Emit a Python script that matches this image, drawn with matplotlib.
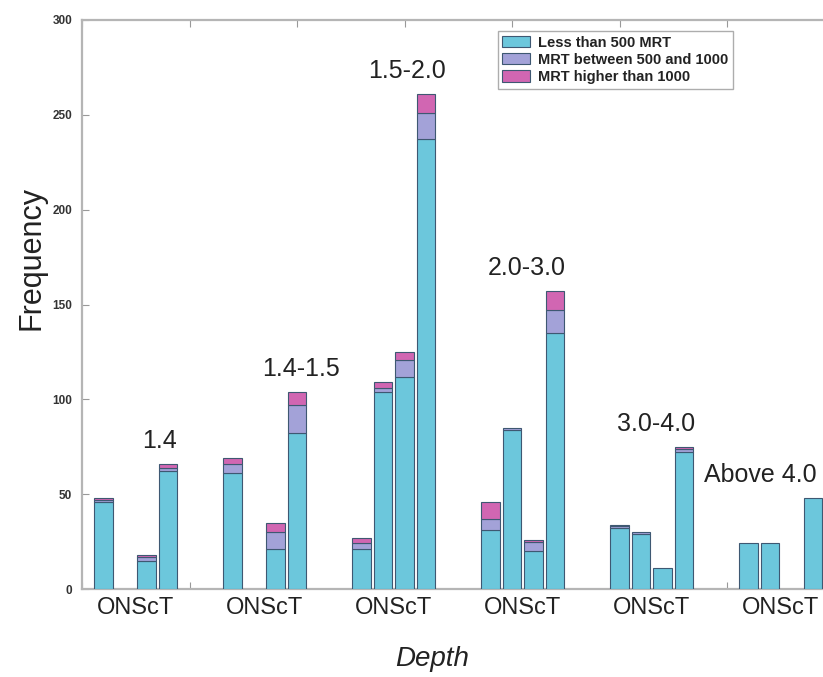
import numpy as np
import matplotlib
matplotlib.use("Agg")
import matplotlib.pyplot as plt
from matplotlib.ticker import MultipleLocator, FixedLocator

plt.rcParams['font.family'] = ['Liberation Sans', 'DejaVu Sans']

# Depth classes and the four tectonic settings in each (O, N, Sc, T)
depth_groups = ["1.4", "1.4-1.5", "1.5-2.0", "2.0-3.0", "3.0-4.0", "Above 4.0"]
settings = ["O", "N", "Sc", "T"]

# Frequency per bar, groups in order, 4 bars per group
less_500 = [46, 0, 15, 62,
            61, 0, 21, 82,
            21, 104, 112, 237,
            31, 84, 20, 135,
            32, 29, 11, 72,
            24, 24, 0, 48]
mrt_500_1000 = [1, 0, 2, 2,
                5, 0, 9, 15,
                3, 2, 9, 14,
                6, 1, 5, 12,
                1, 1, 0, 2,
                0, 0, 0, 0]
mrt_above_1000 = [1, 0, 1, 2,
                  3, 0, 5, 7,
                  3, 3, 4, 10,
                  9, 0, 1, 10,
                  1, 0, 0, 1,
                  0, 0, 0, 0]

series_names = ["Less than 500 MRT", "MRT between 500 and 1000", "MRT higher than 1000"]
colors = ["#6cc7dc", "#a3a2d8", "#d166b2"]

# horizontal shift of each depth title from the first bar of its group
title_shift = [2.6, 3.2, 2.1, 1.7, 1.7, 0.55]

n_set = len(settings)
x = np.array([1 + 6 * g + s for g in range(len(depth_groups)) for s in range(n_set)])
l1 = np.array(less_500)
l2 = np.array(mrt_500_1000)
l3 = np.array(mrt_above_1000)

fig = plt.figure(figsize=(8.23, 6.77), dpi=100)
# the right end of the frame runs off the picture, as in the original
ax = fig.add_axes([82 / 823, 88 / 677, 752.5 / 823, 569 / 677])

edge = "#3e5872"
w = 0.86
bottom = np.zeros(len(x))
for vals, c, name in zip([l1, l2, l3], colors, series_names):
    keep = (vals > 0)
    ax.bar(x[keep], vals[keep], width=w, bottom=bottom[keep], color=c,
           edgecolor=edge, linewidth=0.8, label=name, zorder=3)
    bottom = bottom + vals

totals = l1 + l2 + l3
for g, name in enumerate(depth_groups):
    top = totals[g * n_set:(g + 1) * n_set].max()
    ax.text(1 + 6 * g + title_shift[g], top + 12, name, ha="center",
            va="center", fontsize=18, color="#222222")

ax.set_xlim(0, 35)
ax.set_ylim(0, 300)

ax.xaxis.set_major_locator(MultipleLocator(5))
ax.xaxis.set_minor_locator(FixedLocator([1 + 6 * g + 1.5 for g in range(len(depth_groups))]))
ax.xaxis.set_major_formatter(plt.NullFormatter())
ax.set_xticklabels(["ONScT"] * len(depth_groups), minor=True)
ax.tick_params(axis="x", which="major", direction="in", length=5,
               color="#999999", top=True, bottom=True)
ax.tick_params(axis="x", which="minor", length=0, pad=6, labelsize=17,
               labelcolor="#222222")

ax.yaxis.set_major_locator(MultipleLocator(50))
ax.tick_params(axis="y", direction="in", length=5, color="#999999", pad=7,
               labelsize=8.5, labelcolor="#333333")
for lab in ax.get_yticklabels():
    lab.set_fontweight("bold")

for side in ["left", "bottom", "top", "right"]:
    ax.spines[side].set_color("#b5b5b5")
    ax.spines[side].set_linewidth(1.6)
ax.spines["right"].set_visible(False)

ax.set_ylabel("Frequency", fontsize=22, color="#222222")
ax.yaxis.set_label_coords(-0.047, 0.582)
ax.set_xlabel("Depth", fontsize=20, style="italic", color="#222222")
ax.xaxis.set_label_coords(0.465, -0.1)

leg = ax.legend(loc="upper right", bbox_to_anchor=((733 - 82) / 752.5, (589 - 31) / 569),
                borderaxespad=0, fontsize=10.5, frameon=True, fancybox=False,
                handlelength=1.9, handleheight=0.8, labelspacing=0.22,
                handletextpad=0.55, borderpad=0.32)
leg.get_frame().set_edgecolor("#999999")
leg.get_frame().set_linewidth(1.0)
for t in leg.get_texts():
    t.set_color("#222222")
    t.set_fontweight("bold")

fig.savefig("out.png", dpi=100)
